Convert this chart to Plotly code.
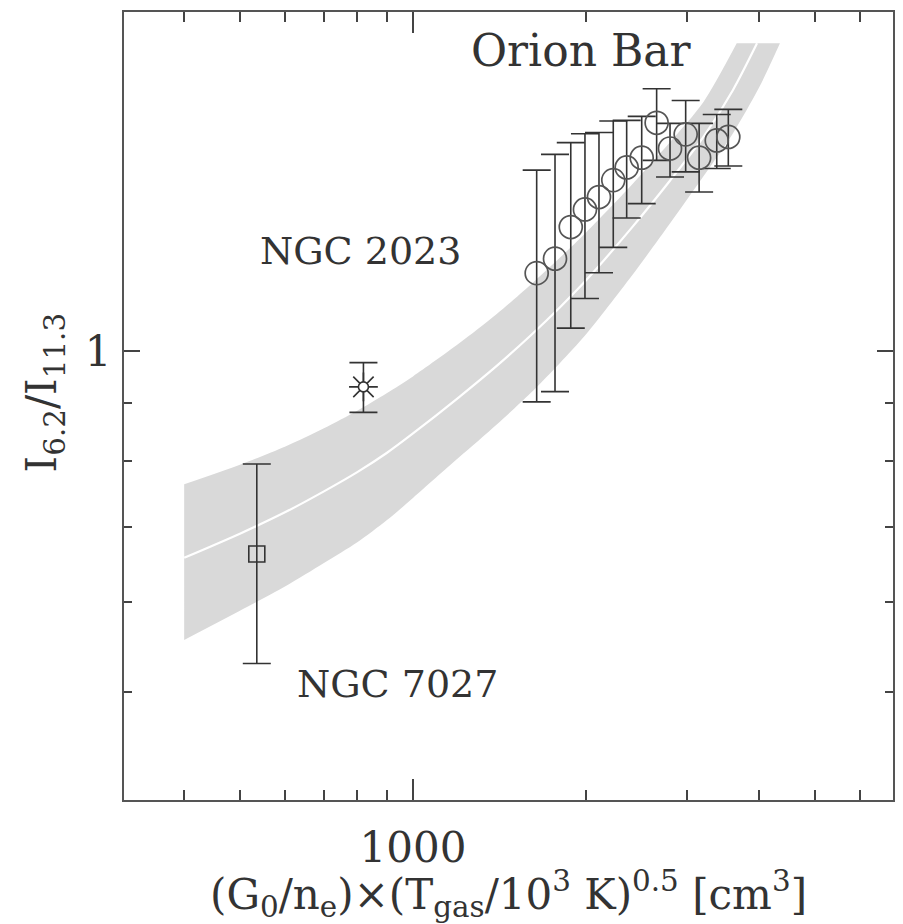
import math
import plotly.graph_objects as go

# ---------------- data ----------------
# Orion Bar
orion_x = [1641, 1766, 1881, 1991, 2106, 2230, 2353, 2499, 2653, 2799, 2980, 3145, 3375, 3535]
orion_y = [1.172, 1.207, 1.287, 1.334, 1.368, 1.416, 1.453, 1.482, 1.591, 1.510, 1.554, 1.482, 1.535, 1.546]
orion_hi = [1.445, 1.492, 1.528, 1.556, 1.560, 1.597, 1.599, 1.612, 1.705, 1.589, 1.665, 1.589, 1.618, 1.635]
orion_lo = [0.902, 0.921, 1.048, 1.113, 1.173, 1.235, 1.311, 1.350, 1.474, 1.425, 1.440, 1.382, 1.450, 1.457]

# NGC 2023
n2023_x = [820]
n2023_y = [0.930]
n2023_hi = [0.977]
n2023_lo = [0.883]

# NGC 7027
n7027_x = [535]
n7027_y = [0.662]
n7027_hi = [0.795]
n7027_lo = [0.530]

# model band (upper edge, lower edge, centre line)
band_up_x = [400, 500, 600, 700, 800, 900, 1000, 1200, 1400, 1600, 1800, 2000, 2400, 2800, 3200, 3656]
band_up_y = [0.763, 0.794, 0.824, 0.855, 0.886, 0.918, 0.950, 1.015, 1.079, 1.144, 1.209, 1.273, 1.402, 1.530, 1.660, 1.870]
band_lo_x = [400, 500, 600, 700, 800, 900, 1000, 1200, 1400, 1600, 1800, 2000, 2400, 2800, 3200, 3600, 4000, 4347]
band_lo_y = [0.556, 0.590, 0.620, 0.650, 0.678, 0.709, 0.742, 0.805, 0.862, 0.918, 0.976, 1.035, 1.165, 1.297, 1.427, 1.557, 1.710, 1.870]
mid_x = [400, 500, 600, 700, 800, 900, 1000, 1200, 1400, 1600, 1800, 2000, 2400, 2800, 3200, 3600, 3966]
mid_y = [0.657, 0.690, 0.721, 0.752, 0.782, 0.813, 0.846, 0.910, 0.971, 1.032, 1.093, 1.155, 1.285, 1.415, 1.546, 1.700, 1.870]

x_major = [1000]
x_major_text = ["1000"]
x_minor = [400, 500, 600, 700, 800, 900, 2000, 3000, 4000, 5000, 6000]
y_major = [1]
y_major_text = ["1"]
y_minor = [0.5, 0.6, 0.7, 0.8, 0.9]

labels = ["Orion Bar", "NGC 2023", "NGC 7027"]
label_x = [1960, 812, 938]
label_y = [1.844, 1.225, 0.508]
label_size = [44, 38, 38]

x_title = "(G<sub>0</sub>/n<sub>e</sub>)×(T<sub>gas</sub>/10<sup>3</sup> K)<sup>0.5</sup> [cm<sup>3</sup>]"
y_title = "I<sub>6.2</sub>/I<sub>11.3</sub>"

# ---------------- figure ----------------
INK = "#333333"
FONT = "DejaVu Serif"
BAND = "#d9d9d9"

fig = go.Figure()

# band: lower edge, then upper edge filled down to it
fig.add_trace(go.Scatter(x=band_lo_x, y=band_lo_y, mode="lines",
                         line=dict(width=0, color=BAND, shape="spline", smoothing=0.8),
                         hoverinfo="skip", showlegend=False))
fig.add_trace(go.Scatter(x=band_up_x, y=band_up_y, mode="lines", fill="tonexty",
                         fillcolor=BAND,
                         line=dict(width=0, color=BAND, shape="spline", smoothing=0.8),
                         hoverinfo="skip", showlegend=False))
fig.add_trace(go.Scatter(x=mid_x, y=mid_y, mode="lines",
                         line=dict(color="white", width=2.2, shape="spline", smoothing=0.8),
                         hoverinfo="skip", showlegend=False))


def err(y, hi, lo):
    return dict(type="data", symmetric=False,
                array=[h - v for h, v in zip(hi, y)],
                arrayminus=[v - l for v, l in zip(y, lo)],
                color=INK, thickness=1.6, width=14)


fig.add_trace(go.Scatter(x=orion_x, y=orion_y, mode="markers",
                         marker=dict(symbol="circle-open", size=23, color="#555555",
                                     line=dict(width=1.7, color="#555555")),
                         error_y=err(orion_y, orion_hi, orion_lo), showlegend=False))
fig.add_trace(go.Scatter(x=n7027_x, y=n7027_y, mode="markers",
                         marker=dict(symbol="square-open", size=16, color=INK,
                                     line=dict(width=1.6, color=INK)),
                         error_y=err(n7027_y, n7027_hi, n7027_lo), showlegend=False))
fig.add_trace(go.Scatter(x=n2023_x, y=n2023_y, mode="markers",
                         marker=dict(symbol="asterisk-open", size=24, color=INK,
                                     line=dict(width=1.6, color=INK)),
                         error_y=err(n2023_y, n2023_hi, n2023_lo), showlegend=False))
fig.add_trace(go.Scatter(x=n2023_x, y=n2023_y, mode="markers",
                         marker=dict(symbol="circle", size=10, color="white",
                                     line=dict(width=1.6, color=INK)),
                         hoverinfo="skip", showlegend=False))

for t, xx, yy, sz in zip(labels, label_x, label_y, label_size):
    fig.add_annotation(x=math.log10(xx), y=math.log10(yy), xref="x", yref="y", text=t,
                       showarrow=False, font=dict(family=FONT, size=sz, color=INK))

# axis titles
fig.add_annotation(x=0.5, y=-0.119, xref="paper", yref="paper", text=x_title,
                   showarrow=False, xanchor="center", yanchor="middle",
                   font=dict(family=FONT, size=42, color=INK))
fig.add_annotation(x=-0.103, y=0.517, xref="paper", yref="paper", text=y_title,
                   showarrow=False, textangle=-90, xanchor="center", yanchor="middle",
                   font=dict(family=FONT, size=42, color=INK))

axis_common = dict(showline=True, linecolor="#555555", linewidth=2, mirror="ticks",
                   ticks="inside", tickcolor="#444444", tickwidth=1.5, showgrid=False,
                   zeroline=False, automargin=False,
                   tickfont=dict(family=FONT, size=42, color=INK))

fig.update_xaxes(type="log", range=[2.4974, 3.8348], tickmode="array",
                 tickvals=x_major, ticktext=x_major_text, ticklen=21,
                 ticklabelstandoff=10,
                 minor=dict(tickmode="array", tickvals=x_minor, ticks="inside", ticklen=10,
                            tickcolor="#444444", tickwidth=1.5, showgrid=False),
                 **axis_common)
fig.update_yaxes(type="log", range=[-0.3963, 0.2995], tickmode="array",
                 tickvals=y_major, ticktext=y_major_text, ticklen=16,
                 ticklabelstandoff=2,
                 minor=dict(tickmode="array", tickvals=y_minor, ticks="inside", ticklen=8,
                            tickcolor="#444444", tickwidth=1.5, showgrid=False),
                 **axis_common)

# the page body adds an 8 px margin; the figure is offset to land on the window
fig.update_layout(width=887, height=916, margin=dict(l=116, r=2, t=4, b=124),
                  plot_bgcolor="white", paper_bgcolor="white", showlegend=False)

fig.write_html("out.html")
